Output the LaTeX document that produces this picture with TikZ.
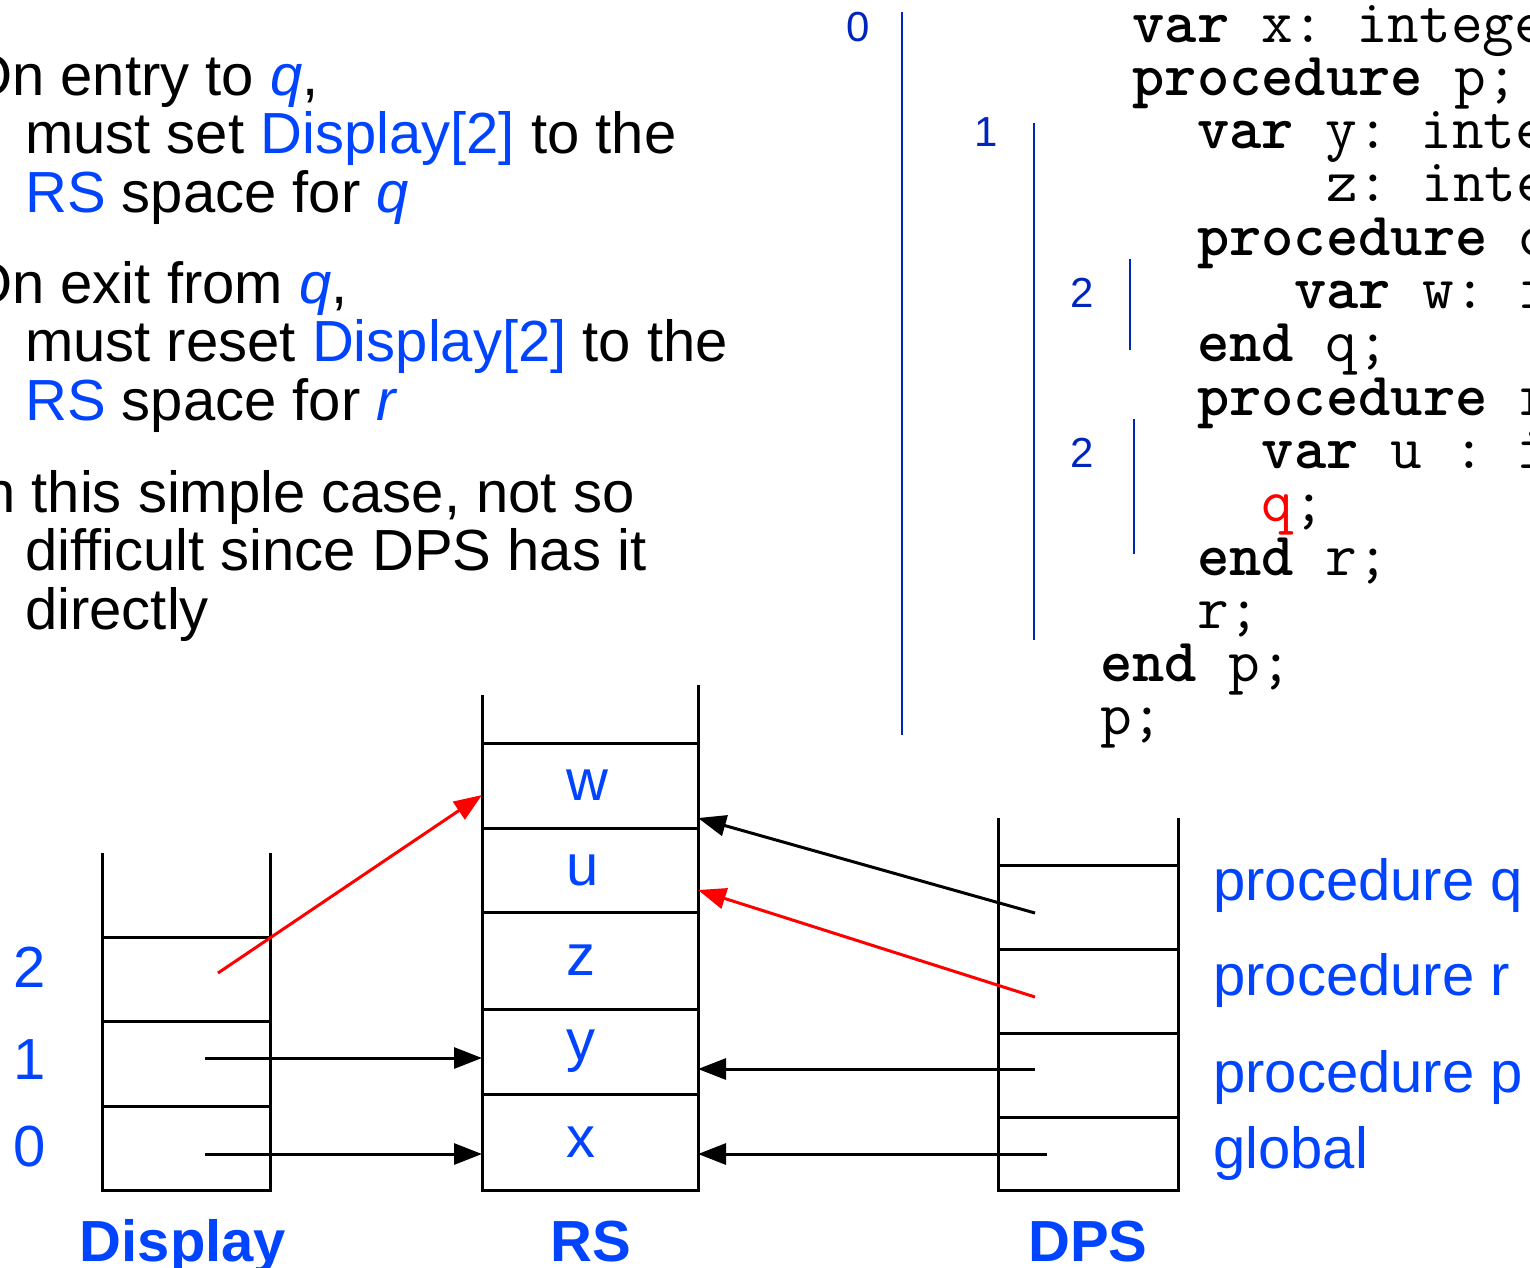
\documentclass[tikz,border=0pt]{standalone}
\usepackage{fontspec}
\setmainfont{Liberation Sans}
\usetikzlibrary{arrows.meta,positioning,calc}

\definecolor{kblue}{RGB}{0,68,255}
\definecolor{lvblue}{RGB}{0,36,190}
\definecolor{kred}{RGB}{255,0,0}

\begin{document}
\begin{tikzpicture}[
    x=1pt, y=-1pt,
    font=\fontsize{58}{58.5}\selectfont,
    body/.style={inner sep=0pt, anchor=base west, align=left},
    code/.style={inner sep=0pt, anchor=base west,
        font=\fontsize{61.5}{53}\selectfont\ttfamily\frenchspacing},
    lvl/.style={inner sep=0pt, text=lvblue, font=\fontsize{42}{42}\selectfont},
    lvlbar/.style={draw=lvblue, line width=2.2pt},
    cell/.style={draw=black, line width=3pt, inner sep=0pt, outer sep=0pt, text=kblue},
    stackline/.style={draw=black, line width=3pt},
    stacklabel/.style={inner sep=0pt, anchor=base, text=kblue,
        font=\fontsize{58}{58}\selectfont\bfseries},
    ptr/.style={-{Triangle[length=28pt,width=21pt]}, line width=3pt, draw=black},
    redptr/.style={ptr, draw=kred}
]
\useasboundingbox (0,0) rectangle (1530,1267);
\clip (0,0) rectangle (1530,1267);

% explanation text (base anchor sits on the last line)
\node[body] (entry) at (-33,212) {On entry to \textcolor{kblue}{\textit{q}},\\
    \hspace*{58pt}must set \textcolor{kblue}{Display[2]} to the\\
    \hspace*{58pt}\textcolor{kblue}{RS} space for \textcolor{kblue}{\textit{q}}};
\node[body] (exit) at (-33,420) {On exit from \textcolor{kblue}{\textit{q}},\\
    \hspace*{58pt}must reset \textcolor{kblue}{Display[2]} to the\\
    \hspace*{58pt}\textcolor{kblue}{RS} space for \textcolor{kblue}{\textit{r}}};
\node[body] (simple) at (-33,629) {In this simple case, not so\\
    \hspace*{58pt}difficult since DPS has it\\
    \hspace*{58pt}directly};

% program text
\foreach \cc/\rr/\txt in {
    1/0/{\textbf{var} x: integer;},
    1/1/{\textbf{procedure} p;},
    3/2/{\textbf{var} y: integer;},
    7/3/{z: integer;},
    3/4/{\textbf{procedure} q;},
    6/5/{\textbf{var} w: integer;},
    3/6/{\textbf{end} q;},
    3/7/{\textbf{procedure} r;},
    5/8/{\textbf{var} u : integer;},
    5/9/{\textcolor{kred}{q};},
    3/10/{\textbf{end} r;},
    3/11/{r;},
    0/12/{\textbf{end} p;},
    0/13/{p;}}
    \node[code] (line\rr) at (1100+\cc*32.3, 42+\rr*53.3) {\txt};

% nesting levels
\node[lvl] (lv0) at (858,27) {0};
\node[lvl] (lv1) at (986,132) {1};
\node[lvl] (lv2q) at (1082,293) {2};
\node[lvl] (lv2r) at (1082,453) {2};
\draw[lvlbar] (902,12) -- (902,735);
\draw[lvlbar] (1034,123) -- (1034,640);
\draw[lvlbar] (1130,259) -- (1130,350);
\draw[lvlbar] (1134,419) -- (1134,554);

% Display
\node[cell, minimum width=168pt, minimum height=84pt] (d2) at (186,979) {};
\node[cell, minimum width=168pt, minimum height=85pt] (d1) at (186,1063.5) {};
\node[cell, minimum width=168pt, minimum height=84pt] (d0) at (186,1148) {};
\draw[stackline] (d2.north west) -- ++(0,-84);
\draw[stackline] (d2.north east) -- ++(0,-84);
\node[text=kblue] (i2) at (30,967) {2};
\node[text=kblue] (i1) at (30,1060) {1};
\node[text=kblue] (i0) at (30,1147) {0};
\node[stacklabel] (displaylab) at (183,1261) {Display};

% RS
\node[cell, minimum width=216pt, minimum height=85pt] (rsw) at (590,785.5) {\hspace*{-6pt}w};
\node[cell, minimum width=216pt, minimum height=84pt] (rsu) at (590,870) {\hspace*{-14pt}u};
\node[cell, minimum width=216pt, minimum height=97pt] (rsz) at (590,960.5) {\hspace*{-18pt}z};
\node[cell, minimum width=216pt, minimum height=85pt] (rsy) at (590,1051.5) {\hspace*{-18pt}y};
\node[cell, minimum width=216pt, minimum height=96pt] (rsx) at (590,1142) {\hspace*{-18pt}x};
\draw[stackline] (rsw.north west) -- ++(0,-48);
\draw[stackline] (rsw.north east) -- ++(0,-58);
\node[stacklabel] (rslab) at (591,1261) {RS};

% DPS
\node[cell, minimum width=180pt, minimum height=84pt] (dq) at (1088,907) {};
\node[cell, minimum width=180pt, minimum height=84pt] (dr) at (1088,991) {};
\node[cell, minimum width=180pt, minimum height=84pt] (dp) at (1088,1075) {};
\node[cell, minimum width=180pt, minimum height=73pt] (dg) at (1088,1153.5) {};
\draw[stackline] (dq.north west) -- ++(0,-47);
\draw[stackline] (dq.north east) -- ++(0,-47);
\node[body, text=kblue] (lq) at (1213,900) {procedure q};
\node[body, text=kblue] (lr) at (1213,995) {procedure r};
\node[body, text=kblue] (lp) at (1213,1092) {procedure p};
\node[body, text=kblue] (lg) at (1213,1168) {global};
\node[stacklabel] (dpslab) at (1088,1261) {DPS};

% pointers
\draw[redptr] ($(d2.center)+(32,-6)$) -- ($(rsw.west)+(0,9.5)$);
\draw[ptr] ($(d1.center)+(19,-5.5)$) -- ($(rsy.west)+(0,6.5)$);
\draw[ptr] ($(d0.center)+(19,6)$) -- ($(rsx.west)+(0,12)$);
\draw[ptr] ($(dq.center)+(-53,6)$) -- ($(rsw.east)+(0,32.5)$);
\draw[redptr] ($(dr.center)+(-53,6)$) -- ($(rsu.east)+(0,20)$);
\draw[ptr] ($(dp.center)+(-53,-6)$) -- ($(rsy.east)+(0,17.5)$);
\draw[ptr] ($(dg.center)+(-41,0.5)$) -- ($(rsx.east)+(0,12)$);
\end{tikzpicture}
\end{document}
